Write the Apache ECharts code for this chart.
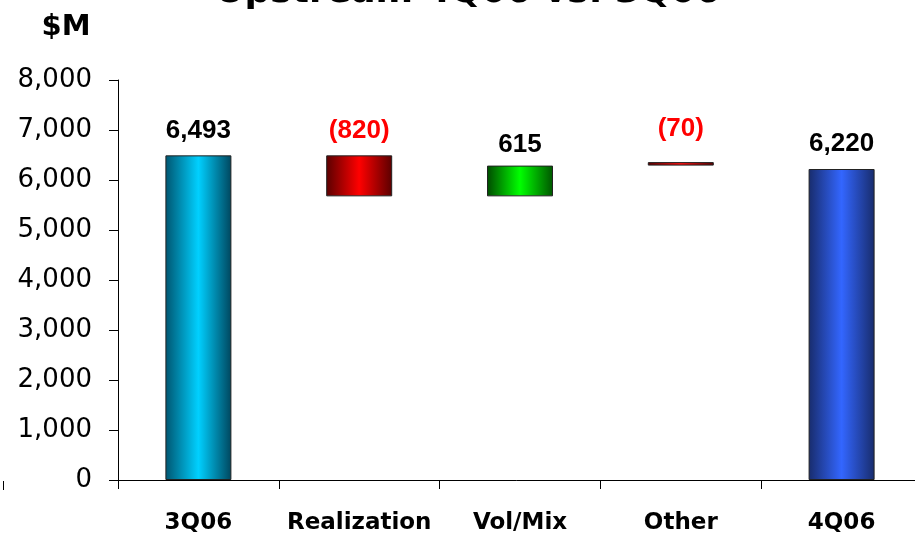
<!DOCTYPE html>
<html>
<head>
<meta charset="utf-8">
<script src="https://cdn.jsdelivr.net/npm/echarts@6/dist/echarts.min.js"></script>
<style>
  html, body { margin: 0; padding: 0; background: #fff; }
  #upstream { width: 915px; height: 533px; }
</style>
</head>
<body>
<div id="upstream"></div>
<script>
  // data
  var categories = ['3Q06', 'Realization', 'Vol/Mix', 'Other', '4Q06'];
  var baseValues = [0, 5673, 5673, 6288, 0];        // invisible offset of each floating bar
  var deltaValues = [6493, 820, 615, 70, 6220];     // visible bar height
  var valueLabels = ['6,493', '(820)', '615', '(70)', '6,220'];
  var yTicks = [0, 1000, 2000, 3000, 4000, 5000, 6000, 7000, 8000];

  function grad(edge, mid, edge2) {
    return new echarts.graphic.LinearGradient(0, 0, 1, 0, [
      { offset: 0, color: edge },
      { offset: 0.5, color: mid },
      { offset: 1, color: edge2 }
    ]);
  }

  var barColors = [
    grad('#005570', '#00d0ff', '#00465e'),
    grad('#5a0000', '#ff0000', '#5a0000'),
    grad('#004a00', '#00ff00', '#005500'),
    grad('#5a0000', '#ff1010', '#5a0000'),
    grad('#182c6c', '#3366ff', '#182c6c')
  ];
  var labelColors = ['#000', '#ff0000', '#000', '#ff0000', '#000'];
  var labelDist = [12, 12, 8, 20, 12];

  var myChart = echarts.init(document.getElementById('upstream'));

  myChart.setOption({
    animation: false,
    graphic: [
      {
        type: 'text',
        x: 468, y: 11,
        style: {
          text: 'Upstream 4Q06 vs. 3Q06',
          font: 'bold 36px "DejaVu Sans"',
          fill: '#000',
          textAlign: 'center',
          textVerticalAlign: 'bottom'
        }
      },
      {
        type: 'text',
        x: 66, y: 27,
        style: {
          text: '$M',
          font: 'bold 29px "DejaVu Sans"',
          fill: '#000',
          textAlign: 'center',
          textVerticalAlign: 'middle'
        }
      },
      {
        type: 'line',
        shape: { x1: 3.5, y1: 481, x2: 3.5, y2: 490 },
        style: { stroke: '#000', lineWidth: 1 }
      }
    ],
    grid: {
      left: 118,
      right: -7,
      top: 80,
      bottom: 53,
      outerBoundsMode: 'none'
    },
    xAxis: {
      type: 'category',
      data: categories,
      axisLine: { lineStyle: { color: '#000', width: 1 } },
      axisTick: { show: true, interval: 0, length: 9, lineStyle: { color: '#000' } },
      axisLabel: {
        interval: 0,
        color: '#000',
        fontFamily: 'DejaVu Sans',
        fontWeight: 'bold',
        fontSize: 23,
        margin: 32
      }
    },
    yAxis: {
      type: 'value',
      min: 0,
      max: 8000,
      interval: 1000,
      splitLine: { show: false },
      axisLine: { show: true, lineStyle: { color: '#000', width: 1 } },
      axisTick: { show: true, length: 9, lineStyle: { color: '#000' } },
      axisLabel: {
        color: '#000',
        fontFamily: 'DejaVu Sans',
        fontSize: 26,
        margin: 26,
        formatter: function (v) {
          return yTicks.indexOf(v) >= 0 ? v.toLocaleString('en-US') : '';
        }
      }
    },
    series: [
      {
        name: 'base',
        type: 'bar',
        stack: 'wf',
        barWidth: 66,
        silent: true,
        itemStyle: { color: 'transparent' },
        data: baseValues
      },
      {
        name: 'change',
        type: 'bar',
        stack: 'wf',
        barWidth: 66,
        data: deltaValues.map(function (v, i) {
          return {
            value: v,
            itemStyle: { color: barColors[i], borderColor: '#222', borderWidth: 1 },
            label: {
              show: true,
              position: 'top',
              distance: labelDist[i],
              formatter: valueLabels[i],
              color: labelColors[i],
              fontFamily: 'Liberation Sans',
              fontWeight: 'bold',
              fontSize: 26
            }
          };
        })
      }
    ]
  });
</script>
</body>
</html>
